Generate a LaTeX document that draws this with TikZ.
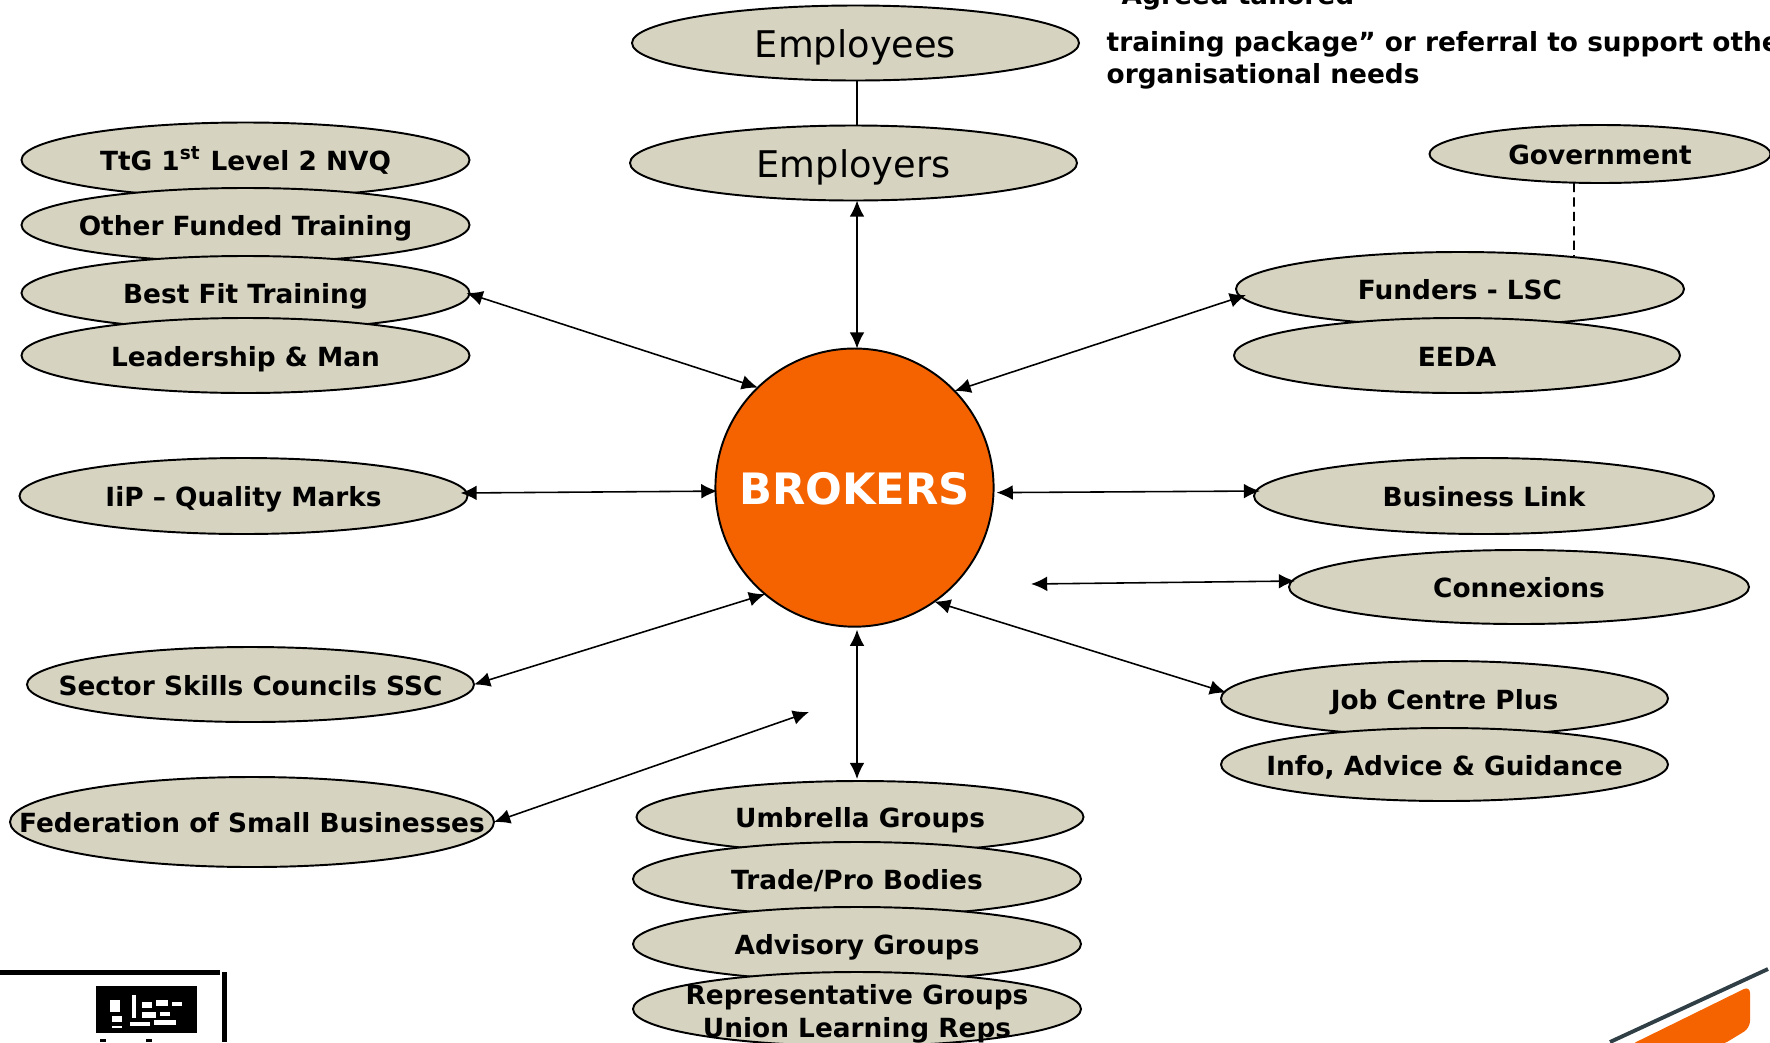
\documentclass[tikz,border=0pt]{standalone}
\usepackage{fontspec}
\setmainfont{DejaVu Sans}
\usetikzlibrary{shapes.geometric,arrows.meta,calc}
\definecolor{ellfill}{HTML}{D6D3C1}
\definecolor{brokerorange}{HTML}{F56300}
\definecolor{swooshline}{HTML}{2F3F45}
\newcommand{\lab}[1]{\makebox[0pt][c]{\smash{\raisebox{-.40em}{#1}}}}
\newcommand{\labb}[2]{\makebox[0pt][c]{\smash{\raisebox{-1.07em}{\begin{tabular}[b]{@{}c@{}}#1\\[.4pt]#2\end{tabular}}}}}
\tikzset{
  ell/.style args={#1/#2}{ellipse,draw=black,fill=ellfill,line width=.55pt,inner sep=0pt,outer sep=0pt,
     minimum width=#1*.01cm,minimum height=#2*.01cm,font=\fontsize{7.5}{9}\selectfont\bfseries},
  lgt/.style={font=\fontsize{10.45}{12}\selectfont},
  con/.style={line width=.45pt,{Latex[length=4.6pt,width=4.2pt]}-{Latex[length=4.6pt,width=4.2pt]}},
  plain/.style={line width=.45pt},
  txt/.style={anchor=base west,inner sep=0pt,font=\fontsize{7.5}{9}\selectfont\bfseries}
}
\begin{document}
\begin{tikzpicture}[x=.01cm,y=-.01cm]
\useasboundingbox (0,0) rectangle (1770,1042);
\clip (0,0) rectangle (1770,1042);
% top text
\node[txt] (t0) at (1121,4) {Agreed tailored};
\node[txt] (t1) at (1106,51) {training package” or referral to support other};
\node[txt] (t2) at (1106,83) {organisational needs};
% ellipses
\node[ell=447/75,lgt] (employees) at (855.5,43) {\lab{Employees}};
\node[ell=447/75,lgt] (employers) at (853.5,163) {\lab{Employers}};
\node[ell=448/75] (ttg) at (245.5,160) {\lab{TtG 1\textsuperscript{st} Level 2 NVQ}};
\node[ell=448/74] (other) at (245.5,225) {\lab{Other Funded Training}};
\node[ell=448/74] (best) at (245.5,293) {\lab{Best Fit Training}};
\node[ell=448/75] (lead) at (245.5,355.5) {\lab{Leadership \& Man}};
\node[ell=448/76] (iip) at (243.5,496) {\lab{IiP – Quality Marks}};
\node[ell=447/75] (ssc) at (250.5,684.5) {\lab{Sector Skills Councils SSC}};
\node[ell=484/90] (fsb) at (252,822) {\lab{Federation of Small Businesses}};
\node[ell=341/58] (gov) at (1600,154) {\lab{Government}};
\node[ell=448/74] (funders) at (1460,289) {\lab{Funders - LSC}};
\node[ell=446/75] (eeda) at (1457,355.5) {\lab{EEDA}};
\node[ell=460/76] (blink) at (1484,496) {\lab{Business Link}};
\node[ell=460/74] (connex) at (1519,587) {\lab{Connexions}};
\node[ell=447/75] (job) at (1444.5,698.5) {\lab{Job Centre Plus}};
\node[ell=447/73] (info) at (1444.5,764.5) {\lab{Info, Advice \& Guidance}};
\node[ell=447/72] (umb) at (860,817) {\lab{Umbrella Groups}};
\node[ell=448/74] (trade) at (857,879) {\lab{Trade/Pro Bodies}};
\node[ell=448/74] (adv) at (857,944) {\lab{Advisory Groups}};
\node[ell=448/74] (rep) at (857,1009) {\labb{Representative Groups}{Union Learning Reps}};
\node[circle,draw=black,fill=brokerorange,line width=.55pt,minimum size=2.78cm,inner sep=0pt,outer sep=0pt,text=white,font=\fontsize{12.3}{15}\selectfont\bfseries] (broker) at (854.5,487.6) {\lab{BROKERS}};
% free ends
\coordinate (cxfree) at (1031,584);
\coordinate (fsbfree) at (809,712);
% connectors
\draw[plain] ([xshift=.015cm]employees.south) -- ([xshift=.035cm]employers.north);
\draw[plain,dash pattern=on 2.6pt off 1.5pt] ([xshift=-.26cm]gov.south) -- (1574,256);
\draw[con] ([xshift=.035cm]employers.south) -- ([shift={(2.5,0)}]broker.north);
\draw[con] ([shift={(-3,0)}]best.east) -- (broker.134);
\draw[con] ([shift={(10,6)}]funders.west) -- (broker.44);
\draw[con] ([shift={(-7,-3)}]iip.east) -- ([shift={(2,3.5)}]broker.west);
\draw[con] ([shift={(3,5)}]broker.east) -- ([shift={(6,-5)}]blink.west);
\draw[con] (cxfree) -- ([shift={(6,-6)}]connex.west);
\draw[con] (broker.-55) -- ([shift={(5,-6)}]job.west);
\draw[con] (ssc.east) -- (broker.230);
\draw[con] (fsb.east) -- (fsbfree);
\draw[con] ([shift={(2.5,3)}]broker.south) -- ([shift={(-3,-2)}]umb.north);
% logo
\fill[black] (0,970) rectangle (220,975);
\fill[black] (222,972) rectangle (227,1042);
\fill[black] (96,986) rectangle (197,1033);
\foreach \a/\b/\c/\d in {110/1000/120/1012, 112/1016/122/1022, 132/995/136/1018, 142/1002/152/1008, 156/1000/168/1006, 172/1002/182/1006, 142/1012/156/1018, 160/1012/170/1016, 130/1022/150/1026, 154/1020/176/1025, 112/1026/122/1028}
  \fill[white] (\a,\b) rectangle (\c,\d);
\fill[black] (100,1039) rectangle (106,1042);
\fill[black] (146,1039) rectangle (152,1042);
% swoosh
\draw[swooshline,line width=1.1pt] (1610,1042) -- (1768,969);
\fill[brokerorange,rounded corners=2pt] (1630,1045) -- (1750,986) -- (1750,1028) -- (1722,1045) -- cycle;
\end{tikzpicture}
\end{document}
